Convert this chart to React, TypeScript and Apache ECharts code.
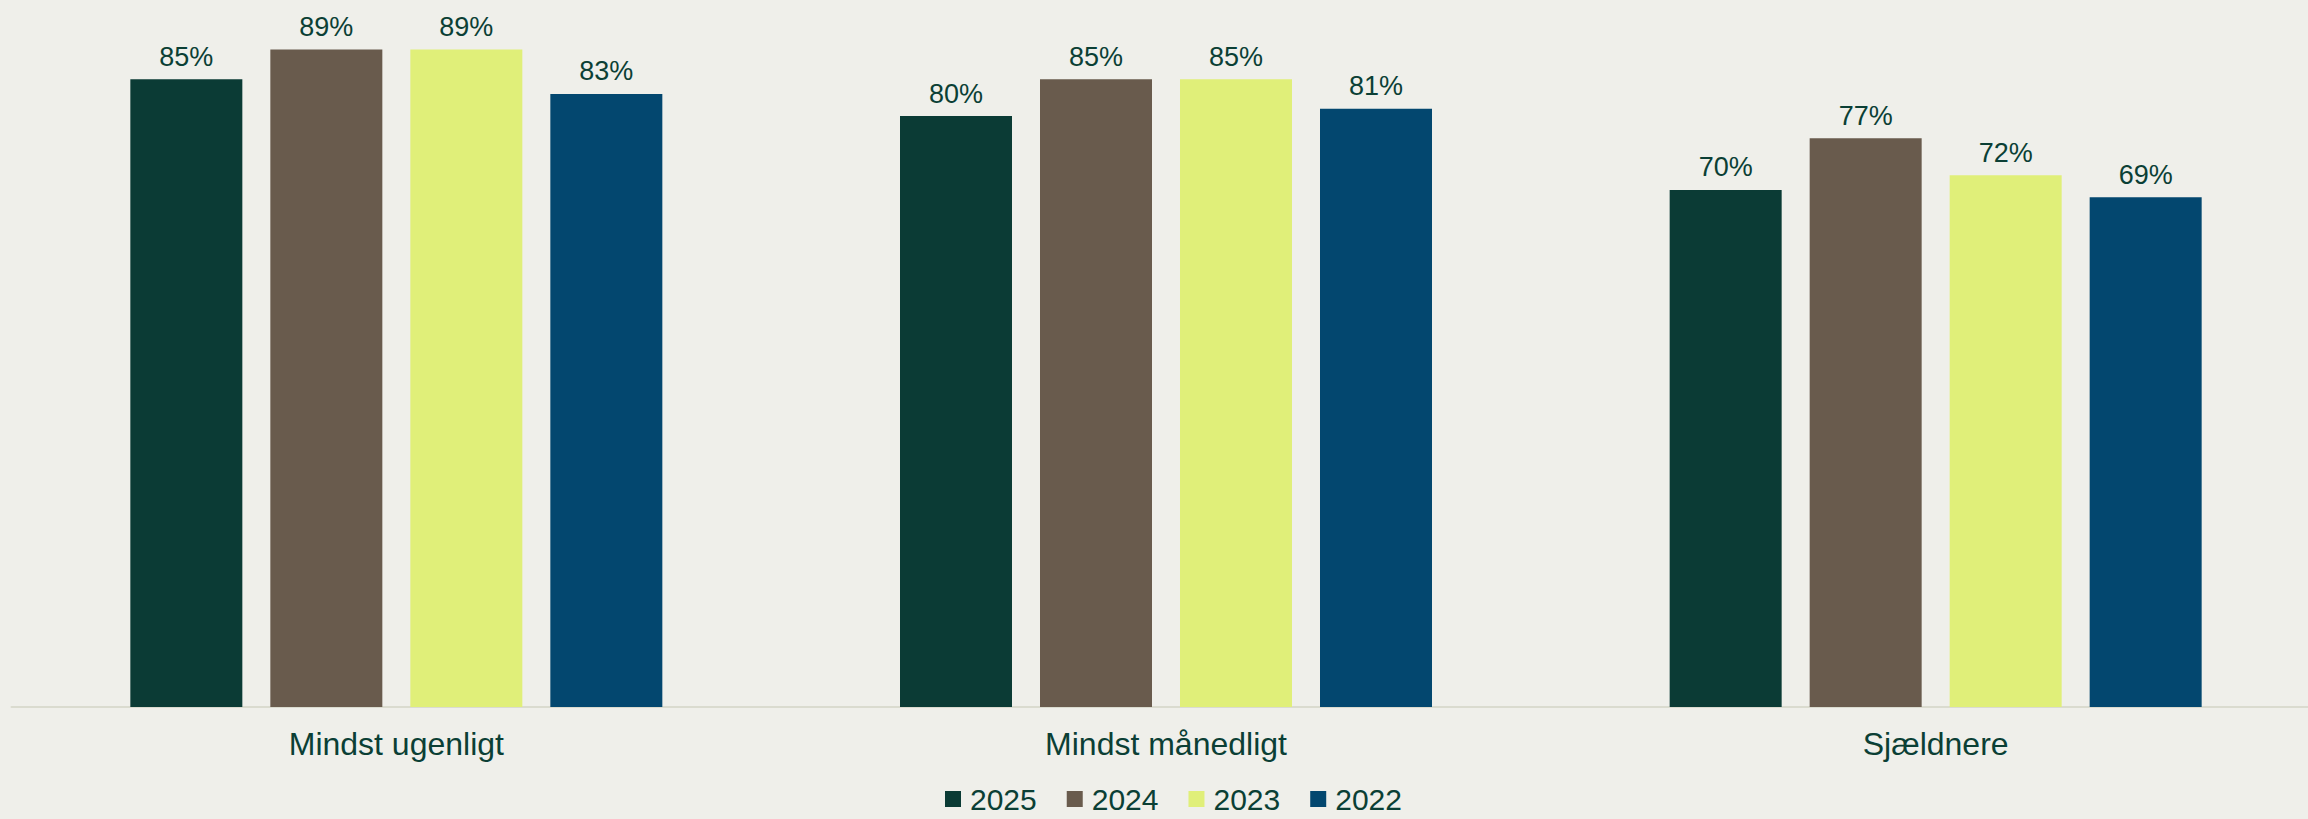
import React, { useEffect, useRef } from "react";
import * as echarts from "echarts";

const categories = ["Mindst ugenligt", "Mindst månedligt", "Sjældnere"];
const seriesNames = ["2025", "2024", "2023", "2022"];
const values2025 = [85, 80, 70];
const values2024 = [89, 85, 77];
const values2023 = [89, 85, 72];
const values2022 = [83, 81, 69];
const colors = ["#0b3b35", "#695b4d", "#e0ef79", "#03476f"];

const TEXT = "#0b3f35";
const BG = "#efefea";

export default function App() {
  const ref = useRef<HTMLDivElement>(null);
  useEffect(() => {
    document.body.style.margin = "0";
    const chart = echarts.init(ref.current!, null, { renderer: "svg" });
    const data = [values2025, values2024, values2023, values2022];
    chart.setOption({
      animation: false,
      backgroundColor: BG,
      textStyle: { fontFamily: "Liberation Sans, Arial, sans-serif" },
      grid: { left: 11.5, top: 42.2, width: 2309, height: 664.8, containLabel: false },
      legend: {
        data: seriesNames,
        left: 945,
        top: 784,
        padding: 0,
        icon: "rect",
        itemWidth: 16,
        itemHeight: 16,
        itemGap: 30,
        textStyle: { color: TEXT, fontSize: 30, lineHeight: 24, padding: [0, 0, 0, 4] },
      },
      xAxis: {
        type: "category",
        data: categories,
        axisLine: { show: true, lineStyle: { color: "#dadbcf", width: 2 } },
        axisTick: { show: false },
        axisLabel: { color: TEXT, fontSize: 32, margin: 21 },
      },
      yAxis: {
        type: "value",
        min: 0,
        max: 90,
        show: false,
        splitLine: { show: false },
      },
      series: seriesNames.map((name, i) => ({
        name,
        type: "bar",
        data: data[i],
        barWidth: 112,
        barGap: "25%",
        itemStyle: { color: colors[i] },
        label: {
          show: true,
          position: "top",
          distance: 9,
          color: TEXT,
          fontSize: 27,
          formatter: (p: any) => p.value + "%",
        },
      })),
    });
    return () => chart.dispose();
  }, []);
  return (
    <div style={{ width: 2308, height: 819, overflow: "hidden" }}>
      <div ref={ref} style={{ width: 2321, height: 819 }} />
    </div>
  );
}
